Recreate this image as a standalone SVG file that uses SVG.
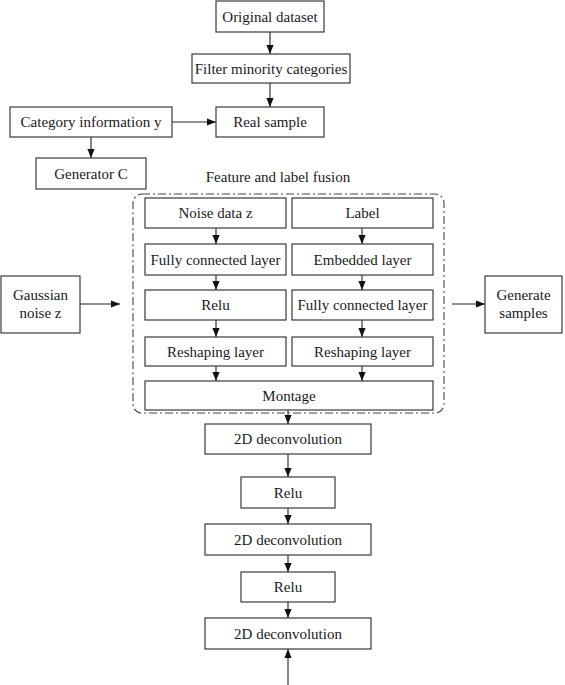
<svg xmlns="http://www.w3.org/2000/svg" width="565" height="685" viewBox="0 0 565 685" font-family="'Liberation Serif', 'Times New Roman', Times, serif">
<defs>
<style>
text{font-family:'Liberation Serif','Times New Roman',Times,serif}
.b{fill:#fff;stroke:#3a3a3a;stroke-width:1.2}
.t{font-size:15px;fill:#1a1a1a;text-anchor:middle}
.c{fill:none;stroke:#222;stroke-width:1.1}
.d{fill:none;stroke:#444;stroke-width:1.1;stroke-dasharray:8,3,2,3}
</style>
<marker id="ah" viewBox="0 0 10 8" refX="10" refY="4" markerWidth="9" markerHeight="7.5" markerUnits="userSpaceOnUse" orient="auto">
<path d="M0,0 L10,4 L0,8 Z" fill="#111"/>
</marker>
</defs>
<rect width="565" height="685" fill="#fff"/>
<g id="connectors">
<line class="c" x1="270" y1="32" x2="270" y2="54" marker-end="url(#ah)"/>
<line class="c" x1="270" y1="83" x2="270" y2="107" marker-end="url(#ah)"/>
<line class="c" x1="172" y1="122" x2="216" y2="122" marker-end="url(#ah)"/>
<line class="c" x1="91" y1="137" x2="91" y2="158" marker-end="url(#ah)"/>
<line class="c" x1="80" y1="304" x2="120" y2="304" marker-end="url(#ah)"/>
<line class="c" x1="452" y1="304" x2="485" y2="304" marker-end="url(#ah)"/>
<line class="c" x1="216" y1="228" x2="216" y2="244" marker-end="url(#ah)"/>
<line class="c" x1="362" y1="228" x2="362" y2="244" marker-end="url(#ah)"/>
<line class="c" x1="216" y1="275" x2="216" y2="290" marker-end="url(#ah)"/>
<line class="c" x1="362" y1="275" x2="362" y2="290" marker-end="url(#ah)"/>
<line class="c" x1="216" y1="320" x2="216" y2="337" marker-end="url(#ah)"/>
<line class="c" x1="362" y1="320" x2="362" y2="337" marker-end="url(#ah)"/>
<line class="c" x1="216" y1="366" x2="216" y2="381" marker-end="url(#ah)"/>
<line class="c" x1="362" y1="366" x2="362" y2="381" marker-end="url(#ah)"/>
<line class="c" x1="288" y1="410" x2="288" y2="424" marker-end="url(#ah)"/>
<line class="c" x1="288" y1="454" x2="288" y2="477" marker-end="url(#ah)"/>
<line class="c" x1="288" y1="508" x2="288" y2="524" marker-end="url(#ah)"/>
<line class="c" x1="288" y1="555" x2="288" y2="572" marker-end="url(#ah)"/>
<line class="c" x1="288" y1="602" x2="288" y2="618" marker-end="url(#ah)"/>
<line class="c" x1="288" y1="685" x2="288" y2="649" marker-end="url(#ah)"/>
</g>
<g id="fusion-frame">
<rect class="d" x="133" y="194" width="311" height="219" rx="9"/>
<text class="t" x="278" y="182">Feature and label fusion</text>
</g>
<g id="original"><rect class="b" x="216" y="1" width="108" height="31"/><text class="t" x="270" y="21.5">Original dataset</text></g>
<g id="filter"><rect class="b" x="192" y="54" width="158" height="29"/><text class="t" x="271" y="73.5">Filter minority categories</text></g>
<g id="real"><rect class="b" x="216" y="107" width="108" height="30"/><text class="t" x="270" y="127">Real sample</text></g>
<g id="category"><rect class="b" x="10" y="107" width="162" height="30"/><text class="t" x="91" y="127">Category information y</text></g>
<g id="generator"><rect class="b" x="36" y="158" width="110" height="31"/><text class="t" x="91" y="178.5">Generator C</text></g>
<g id="gaussian"><rect class="b" x="1" y="276" width="79" height="57"/><text class="t" x="40.5" y="300">Gaussian</text><text class="t" x="40.5" y="318">noise z</text></g>
<g id="generate"><rect class="b" x="485" y="276" width="77" height="57"/><text class="t" x="523.5" y="300">Generate</text><text class="t" x="523.5" y="318">samples</text></g>
<g id="noise"><rect class="b" x="145" y="198" width="141" height="30"/><text class="t" x="215.5" y="218">Noise data z</text></g>
<g id="label"><rect class="b" x="292" y="198" width="141" height="30"/><text class="t" x="362.5" y="218">Label</text></g>
<g id="fc1"><rect class="b" x="145" y="244" width="141" height="31"/><text class="t" x="215.5" y="264.5">Fully connected layer</text></g>
<g id="embed"><rect class="b" x="292" y="244" width="141" height="31"/><text class="t" x="362.5" y="264.5">Embedded layer</text></g>
<g id="relu0"><rect class="b" x="145" y="290" width="141" height="30"/><text class="t" x="215.5" y="310">Relu</text></g>
<g id="fc2"><rect class="b" x="292" y="290" width="141" height="30"/><text class="t" x="362.5" y="310">Fully connected layer</text></g>
<g id="reshape1"><rect class="b" x="145" y="337" width="141" height="29"/><text class="t" x="215.5" y="356.5">Reshaping layer</text></g>
<g id="reshape2"><rect class="b" x="292" y="337" width="141" height="29"/><text class="t" x="362.5" y="356.5">Reshaping layer</text></g>
<g id="montage"><rect class="b" x="145" y="381" width="288" height="29"/><text class="t" x="289" y="400.5">Montage</text></g>
<g id="deconv1"><rect class="b" x="205" y="424" width="166" height="30"/><text class="t" x="288" y="444">2D deconvolution</text></g>
<g id="relu1"><rect class="b" x="241" y="477" width="94" height="31"/><text class="t" x="288" y="497.5">Relu</text></g>
<g id="deconv2"><rect class="b" x="205" y="524" width="166" height="31"/><text class="t" x="288" y="544.5">2D deconvolution</text></g>
<g id="relu2"><rect class="b" x="241" y="572" width="94" height="30"/><text class="t" x="288" y="592">Relu</text></g>
<g id="deconv3"><rect class="b" x="205" y="618" width="166" height="31"/><text class="t" x="288" y="638.5">2D deconvolution</text></g>
</svg>
